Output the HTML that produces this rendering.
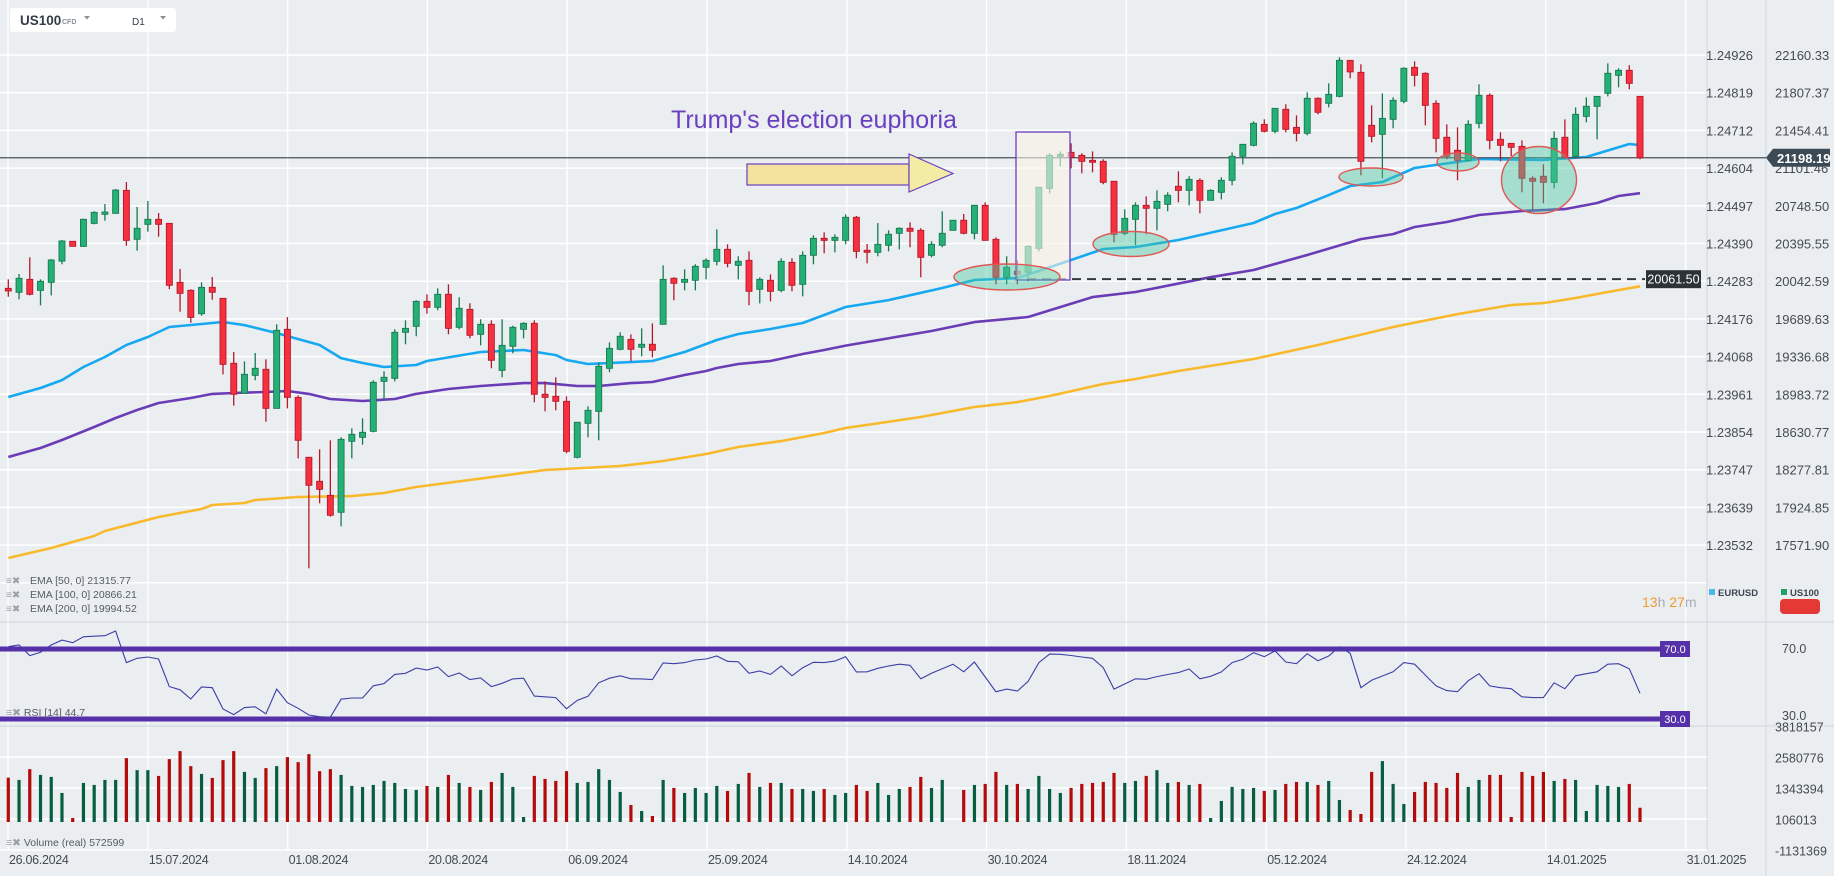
<!DOCTYPE html>
<html><head><meta charset="utf-8"><title>US100 D1</title>
<style>
html,body{margin:0;padding:0;background:#ebeef1;}
body{width:1834px;height:876px;overflow:hidden;font-family:"Liberation Sans",sans-serif;}
svg{display:block;}
text{font-family:"Liberation Sans",sans-serif;}
</style></head>
<body>
<svg id="chart" width="1834" height="876" viewBox="0 0 1834 876" xmlns="http://www.w3.org/2000/svg">
<rect x="0" y="0" width="1834" height="876" fill="#ebeef1"/>
<g id="grid"></g>
<g id="emas"></g>
<line x1="0" y1="158" x2="1766" y2="158" stroke="#47525c" stroke-width="1.2" id="curline"/>
<line id="supline" x1="1027" y1="279" x2="1645" y2="279" stroke="#2f3a40" stroke-width="2" stroke-dasharray="9,6"/>
<g id="candles"></g>
<rect x="1016" y="132" width="54" height="148" fill="rgba(250,244,232,0.6)" stroke="#6a3fc0" stroke-width="1.3"/>
<g fill="rgba(70,200,160,0.42)" stroke="#e25555" stroke-width="1.4">
<ellipse cx="1007" cy="277" rx="53" ry="13"/>
<ellipse cx="1131" cy="244" rx="38" ry="12.5"/>
<ellipse cx="1371" cy="177" rx="32" ry="9"/>
<ellipse cx="1458" cy="162" rx="21" ry="9"/>
<ellipse cx="1539" cy="180" rx="37.5" ry="33.5"/>
</g>
<g>
<rect x="747" y="164" width="162" height="21" fill="#f4e39e" stroke="#6a3fc0" stroke-width="1.2"/>
<polygon points="909,154 953,173.5 909,192" fill="#f3eca4" stroke="#6a3fc0" stroke-width="1.2"/>
</g>
<text x="671" y="128" font-size="25" fill="#6a3fc0">Trump's election euphoria</text>

<g>
<rect x="10" y="8" width="166" height="24" rx="3" fill="#ffffff"/>
<text x="20" y="25" font-size="13.5" font-weight="bold" fill="#333d49">US100</text>
<text x="62" y="24" font-size="7" font-weight="bold" fill="#8a9099">CFD</text>
<polygon points="84,16 90,16 87,19.5" fill="#8a9099"/>
<text x="132" y="25" font-size="10" fill="#333d49">D1</text>
<polygon points="160,16 166,16 163,19.5" fill="#8a9099"/>
</g>

<g id="axes"></g>
<g id="rsi"></g>
<g id="vol"></g>

<g font-size="10.5" fill="#555c66">
<text x="6" y="584" fill="#9aa0a8" font-size="10">≡✖</text><text x="30" y="584">EMA  [50, 0]  21315.77</text>
<text x="6" y="598" fill="#9aa0a8" font-size="10">≡✖</text><text x="30" y="598">EMA  [100, 0]  20866.21</text>
<text x="6" y="612" fill="#9aa0a8" font-size="10">≡✖</text><text x="30" y="612">EMA  [200, 0]  19994.52</text>
</g>
<text x="1642" y="607" font-size="14"><tspan fill="#f39a2a">13</tspan><tspan fill="#a8adb4">h </tspan><tspan fill="#f39a2a">27</tspan><tspan fill="#a8adb4">m</tspan></text>
<rect x="1709" y="589" width="6" height="6" fill="#4ab8ee"/>
<text x="1718" y="596" font-size="9.5" font-weight="bold" fill="#3d4550">EURUSD</text>
<rect x="1781" y="589" width="6" height="6" fill="#22a06b"/>
<text x="1790" y="596" font-size="9.5" font-weight="bold" fill="#3d4550">US100</text>
<rect x="1780" y="599" width="40" height="15" rx="4" fill="#e53935"/>
<text x="6" y="716" font-size="10.5" fill="#555c66"><tspan fill="#9aa0a8">≡✖</tspan> RSI  [14]  44.7</text>
<text x="6" y="846" font-size="10.5" fill="#555c66"><tspan fill="#9aa0a8">≡✖</tspan> Volume  (real)  572599</text>
</svg>

<script>
const open = [19976,19939,20060,19957,20032,20231,20416,20369,20584,20669,
20678,20893,20435,20575,20622,20584,20032,19957,19738,19985,
19882,19274,18993,19161,19218,18852,19592,18955,18394,18169,
18038,17879,18544,18581,18637,19105,19133,19564,19620,19854,
19798,19920,19611,19779,19545,19639,19208,19433,19592,19648,
18984,18965,18918,18394,18712,18824,19227,19405,19498,19424,
19452,19639,20070,20032,20051,20173,20229,20341,20191,20238,
19967,20051,19957,20219,20013,20285,20444,20425,20425,20641,
20332,20313,20379,20491,20538,20519,20285,20379,20519,20613,
20491,20753,20435,20079,20135,20126,20350,20912,21212,21249,
21221,21174,21165,20978,20491,20622,20753,20725,20762,20931,
20893,20987,20800,20875,20987,21212,21315,21511,21446,21652,
21483,21427,21755,21708,21773,22110,21998,21502,21418,21558,
21727,22045,21989,21708,21390,21268,21174,21521,21783,21371,
21333,21305,21006,21025,20968,21390,21212,21586,21680,21802,21970,22017,21773];
const high = [20060,20110,20266,20060,20250,20428,20419,20627,20697,20765,
20906,20971,20737,20793,20681,20584,20157,19967,20032,20082,
19882,19380,19292,19370,19311,19639,19707,18974,18394,18469,
18553,18581,18665,18759,19115,19199,19592,19676,19864,19920,
19976,20013,19892,19836,19686,19676,19686,19626,19658,19676,
19105,19143,18965,18722,18871,19283,19470,19564,19545,19601,
19648,20191,20079,20154,20201,20257,20528,20388,20276,20322,
20079,20107,20257,20257,20322,20472,20500,20481,20669,20653,
20391,20587,20519,20547,20594,20538,20416,20697,20616,20672,
20753,20781,20453,20276,20238,20379,20922,21240,21258,21333,
21240,21258,21184,20978,20716,20781,20837,20893,20875,21071,
21025,21006,20903,21015,21249,21324,21539,21558,21664,21699,
21595,21811,21764,21895,22139,22110,22073,21689,21801,21764,
22045,22101,21998,21736,21511,21483,21549,21886,21801,21436,
21333,21361,21025,21137,21446,21558,21670,21764,21773,22082,22036,22064,21773];
const low = [19897,19873,19910,19817,19910,20201,20367,20363,20575,20609,
20674,20375,20328,20506,20459,19967,19757,19654,19719,19869,
19171,18877,18993,19115,18727,18852,18852,18384,17355,17963,
17838,17748,18384,18512,18628,18937,19105,19452,19527,19738,
19770,19545,19592,19508,19442,19227,19143,19367,19508,18909,
18824,18834,18431,18384,18581,18553,19190,19396,19292,19339,
19330,19639,19864,19957,19957,20060,20191,20173,20060,19817,
19835,19854,19939,19948,19901,20201,20304,20313,20388,20257,
20210,20276,20322,20341,20360,20079,20266,20360,20517,20481,
20435,20425,20013,20013,20013,20042,20322,20865,21118,21099,
21053,21062,20950,20407,20472,20379,20482,20519,20697,20781,
20753,20678,20800,20809,20940,21137,21305,21436,21427,21436,
21352,21408,21605,21670,21764,21942,21034,21343,21006,21474,
21708,21867,21502,21249,21184,20987,21165,21474,21277,21165,
21212,20875,20706,20772,20912,21184,21202,21530,21371,21773,21858,21839,21184];
const close = [19951,20070,19920,20042,20241,20419,20369,20622,20687,20690,
20896,20425,20538,20622,20575,20004,19929,19704,19985,19939,
19264,18984,19171,19227,18852,19583,18955,18553,18132,18094,
17851,18562,18609,18628,19096,19143,19564,19601,19854,19798,
19920,19601,19789,19536,19639,19302,19442,19611,19648,18984,
18955,18918,18450,18722,18834,19246,19414,19527,19405,19452,
19396,20060,20023,20060,20182,20238,20341,20210,20229,19948,
20060,19948,20229,20004,20285,20444,20425,20453,20641,20322,
20313,20388,20482,20538,20510,20266,20388,20491,20613,20491,
20753,20425,20079,20173,20107,20369,20922,21221,21230,21202,
21165,21156,20968,20482,20631,20753,20725,20790,20847,20893,
20996,20800,20893,20987,21212,21324,21521,21446,21661,21464,
21427,21755,21624,21792,22110,22002,21165,21399,21567,21736,
22036,21970,21689,21380,21212,21174,21511,21783,21361,21315,
21296,21006,20978,20968,21380,21202,21605,21680,21773,21989,22017,21895,21198.19];
const volumeM = [1.77,1.68,2.11,1.88,1.80,1.16,0.16,1.56,1.48,1.68,
1.68,2.55,2.07,2.07,1.84,2.51,2.83,2.23,1.92,1.76,
2.47,2.83,2.00,1.76,2.15,2.23,2.59,2.39,2.71,2.03,
2.11,1.88,1.44,1.40,1.48,1.64,1.56,1.32,1.28,1.44,
1.40,1.88,1.56,1.40,1.28,1.60,1.96,1.40,0.20,1.84,
1.72,1.64,2.03,1.56,1.60,2.11,1.68,1.20,0.68,0.44,
0.24,1.68,1.36,1.16,1.36,1.16,1.44,1.24,1.52,1.96,
1.40,1.56,1.56,1.32,1.32,1.24,1.32,1.08,1.16,1.48,
1.24,1.56,1.08,1.32,1.40,1.80,1.36,1.68,0,1.28,
1.48,1.52,2.00,1.48,1.52,1.32,1.84,1.32,1.16,1.36,
1.52,1.56,1.60,1.96,1.56,1.64,1.84,2.07,1.56,1.60,
1.48,1.52,0.16,0.84,1.40,1.32,1.36,1.24,1.28,1.52,
1.60,1.60,1.48,1.64,0.88,0.48,0.32,2.00,2.43,1.52,
0.72,1.20,1.60,1.56,1.36,1.96,1.40,1.68,1.88,1.88,
0.20,2.00,1.84,2.00,1.64,1.72,1.68,0.44,1.48,1.44,1.40,1.52,0.57];
const rsiVals = [71.3,72.3,66.2,68.1,72.3,75.1,73.6,77,77.3,77.6,
80.3,62.2,64.7,65.4,64.3,48.5,46.7,41.4,48.3,47.9,
35.7,32.5,36.5,37,33,47.1,39.3,36.1,32.3,31.3,
31,41.3,42,42,49,50.2,55.5,56.1,59.1,58,
59.7,54.2,56.3,52.5,53.4,48.5,50.4,52.9,53.3,43.1,
42.7,42.2,35.9,40.7,43,50.7,53.3,54.7,53,52.9,
52.5,62,61.6,62.2,63.7,64.3,66,63,62.7,56.1,
57.4,55.5,60.3,54.7,59.3,62.4,62.2,63.1,65.6,56.9,
57,59,60.3,61.3,60.7,53,56.1,58.7,61.3,57,
62.6,54,45.6,47.1,46,51.5,62.2,67.1,67,66.3,
65.4,64.7,59.3,47.1,50,53,52.7,54.2,55.4,56.5,
58.6,53,54.4,56.9,62.2,64.1,67.9,65.6,68.9,62.6,
61.6,67.3,63.3,66,71.3,67.5,47.9,52.1,54.6,57,
62.2,61.3,55.1,48.9,46.2,45.6,51.9,55.9,48.9,47.9,
47.3,42.7,42.2,42.2,50.7,47.3,54.7,55.9,57,61.3,61.6,58.7,44.7];
const ema50Idx = [0,3,5,7,9,11,13,15,18,20,22,25,29,31,33,35,38,39,44,48,51,52,54,60,63,66,68,71,74,78,82,87,90,94,99,102,105,109,116,118,120,123,125,128,131,133,137,143,147,151,152];
const ema50Val = [18958,19043,19117,19239,19333,19445,19520,19614,19642,19661,19632,19557,19445,19323,19277,19239,19258,19295,19380,19398,19351,19305,19267,19295,19380,19492,19548,19595,19651,19801,19866,19979,20054,20072,20241,20344,20363,20428,20587,20672,20728,20849,20934,20971,21102,21131,21187,21177,21205,21327,21316];
const ema100Idx = [0,3,5,8,10,12,14,17,19,21,24,26,28,30,33,36,38,41,44,48,50,53,55,58,60,63,65,66,68,71,74,76,78,86,90,95,101,105,112,116,121,126,129,131,134,137,141,145,148,150,152];
const ema100Val = [18397,18481,18556,18678,18762,18837,18902,18949,18987,18996,19005,19015,18987,18940,18921,18940,18987,19033,19061,19089,19089,19061,19061,19089,19099,19164,19202,19230,19267,19295,19361,19398,19440,19576,19660,19707,19894,19941,20080,20147,20288,20437,20484,20550,20597,20662,20700,20718,20775,20840,20866];
const ema200Idx = [0,2,4,8,9,14,18,19,22,23,27,32,35,38,50,57,61,65,68,72,76,78,85,90,94,97,102,105,109,116,122,129,135,140,143,146,149,152];
const ema200Val = [17451,17498,17545,17657,17704,17835,17910,17947,17966,17994,18022,18031,18060,18116,18275,18312,18359,18425,18490,18546,18621,18668,18771,18865,18911,18968,19080,19127,19202,19314,19445,19614,19735,19820,19838,19885,19941,19995];
const priceTicks = ["22160.33","21807.37","21454.41","21101.46","20748.50","20395.55","20042.59","19689.63","19336.68","18983.72","18630.77","18277.81","17924.85","17571.90"];
const fxTicks = ["1.24926","1.24819","1.24712","1.24604","1.24497","1.24390","1.24283","1.24176","1.24068","1.23961","1.23854","1.23747","1.23639","1.23532"];
const volTicks = ["3818157","2580776","1343394","106013","-1131369"];
const volTickVals = [3818157,2580776,1343394,106013,-1131369];
const dateLabels = ["26.06.2024","15.07.2024","01.08.2024","20.08.2024","06.09.2024","25.09.2024","14.10.2024","30.10.2024","18.11.2024","05.12.2024","24.12.2024","14.01.2025","31.01.2025"];
const lastPrice = 21198.19;
const supportPrice = 20061.50;

const NS = "http://www.w3.org/2000/svg";
const PTOP = 22160.33, PSTEP = 352.96, GY0 = 55, GDY = 37.7;
function xAt(i){ return 8.3 + i*10.735; }
function yP(p){ return GY0 + (PTOP - p)/PSTEP*GDY; }
function yRsi(v){ return 649 + (70 - v)*1.75; }
function yVol(v){ return 822 - v*31/1237381; }
function mk(tag, attrs, parent){
  const e = document.createElementNS(NS, tag);
  for (const k in attrs) e.setAttribute(k, attrs[k]);
  parent.appendChild(e); return e;
}
const grid = document.getElementById('grid');
const axes = document.getElementById('axes');

for (let k = 0; k < 15; k++) {
  const y = GY0 + k*GDY;
  const gl = mk('line', {x1:0, y1:y, x2:1707, y2:y, stroke:'#ffffff', 'stroke-width':1.5}, grid);
  
  
}
for (let k = 0; k < 13; k++) {
  const x = 8 + k*139.8;
  const vl = mk('line', {x1:x, y1:0, x2:x, y2:850, stroke:'#ffffff', 'stroke-width':1.3}, grid);
  
  
  const dt = mk('text', {x:x+1, y:864, 'font-size':12.5, fill:'#454b52', 'letter-spacing':'-0.3'}, axes);
  dt.textContent = dateLabels[k];
  
  
}
[[0,622,1834,622],[0,726,1834,726],[1766,0,1766,876],[1707,0,1707,850]].forEach(function(c){
  const sl = mk('line', {x1:c[0], y1:c[1], x2:c[2], y2:c[3], stroke:'#d9dde2', 'stroke-width':1.5}, grid);
  
  
});
[[0,757],[0,788],[0,819],[0,850]].forEach(function(c){
  const vgl = mk('line', {x1:0, y1:c[1], x2:1707, y2:c[1], stroke:'#ffffff', 'stroke-width':1.5}, grid);
  
  
});

for (let k = 0; k < priceTicks.length; k++) {
  const y = GY0 + k*GDY;
  const t1 = mk('text', {x:1775, y:y+5, 'font-size':13, fill:'#454b52'}, axes);
  t1.textContent = priceTicks[k];
  
  
  const t2 = mk('text', {x:1753, y:y+5, 'font-size':13, fill:'#454b52', 'text-anchor':'end'}, axes);
  t2.textContent = fxTicks[k];
  
  
}
for (let k = 0; k < volTicks.length; k++) {
  const y = yVol(volTickVals[k]);
  const vt = mk('text', {x:1775, y:y+5, 'font-size':12.5, fill:'#454b52'}, axes);
  vt.textContent = volTicks[k];
  
  
}

function drawLine(idx, vals, color, name){
  const pts = idx.map(function(i, j){ return xAt(i).toFixed(1) + ',' + yP(vals[j]).toFixed(1); }).join(' ');
  const pl = mk('polyline', {points:pts, fill:'none', stroke:color, 'stroke-width':2.6, 'stroke-linejoin':'round'}, document.getElementById('emas'));
  
  
}
drawLine(ema200Idx, ema200Val, '#f8b92c', 'ema200-line');
drawLine(ema100Idx, ema100Val, '#6a3db6', 'ema100-line');
drawLine(ema50Idx, ema50Val, '#16a8f0', 'ema50-line');

document.getElementById('curline').setAttribute('y1', yP(lastPrice));
document.getElementById('curline').setAttribute('y2', yP(lastPrice));
document.getElementById('supline').setAttribute('y1', yP(supportPrice));
document.getElementById('supline').setAttribute('y2', yP(supportPrice));

const cg = document.getElementById('candles');
for (let i = 0; i < open.length; i++) {
  const up = close[i] >= open[i];
  const x = xAt(i);
  const fill = up ? '#26b077' : '#f7303f';
  const stroke = up ? '#157a4f' : '#b5182a';
  const wk = mk('line', {x1:x, y1:yP(high[i]), x2:x, y2:yP(low[i]), stroke:stroke, 'stroke-width':1.3}, cg);
  
  
  const top = yP(Math.max(open[i], close[i]));
  const h = Math.max(1.5, yP(Math.min(open[i], close[i])) - top);
  const bd = mk('rect', {x:x-3, y:top, width:6, height:h, fill:fill, stroke:stroke, 'stroke-width':0.9}, cg);
  
  
}

const cy = yP(lastPrice);
const pb = mk('polygon', {points:(1766)+','+cy+' '+(1773)+','+(cy-9)+' 1830,'+(cy-9)+' 1830,'+(cy+9)+' 1773,'+(cy+9), fill:'#3c4a55'}, axes);


const pt = mk('text', {x:1777, y:cy+5, 'font-size':13, 'font-weight':'bold', fill:'#ffffff'}, axes);
pt.textContent = lastPrice.toFixed(2);


const sy = yP(supportPrice);
const sb = mk('rect', {x:1646, y:sy-9, width:55, height:18, fill:'#2b3338'}, axes);


const st = mk('text', {x:1673.5, y:sy+4.5, 'font-size':12.5, fill:'#ffffff', 'text-anchor':'middle'}, axes);
st.textContent = supportPrice.toFixed(2);



const rg = document.getElementById('rsi');
[70,30].forEach(function(lv){
  const y = yRsi(lv);
  const ln = mk('line', {x1:0, y1:y, x2:1660, y2:y, stroke:'#5530a8', 'stroke-width':5}, rg);
  
  
  const bx = mk('rect', {x:1660, y:y-8, width:30, height:16, fill:'#5530a8'}, rg);
  
  
  const bt = mk('text', {x:1675, y:y+4, 'font-size':11, fill:'#ffffff', 'text-anchor':'middle'}, rg);
  bt.textContent = lv.toFixed(1);
  
  
  const at = mk('text', {x:1782, y:y+(lv === 30 ? 1 : 4), 'font-size':12.5, fill:'#454b52'}, rg);
  at.textContent = lv.toFixed(1);
  
  
});
const rpts = rsiVals.map(function(v, i){ return xAt(i).toFixed(1) + ',' + yRsi(v).toFixed(1); }).join(' ');
const rl = mk('polyline', {points:rpts, fill:'none', stroke:'#3b3fa6', 'stroke-width':1.1}, rg);



const vg = document.getElementById('vol');
for (let i = 0; i < volumeM.length; i++) {
  if (volumeM[i] <= 0) continue;
  const up = close[i] >= open[i];
  const y = yVol(volumeM[i]*1e6);
  const b = mk('rect', {x:xAt(i)-1.6, y:y, width:3.2, height:yVol(0)-y, fill: up ? '#075e3e' : '#b40a0a'}, vg);
  
  
}
</script>
</body></html>
